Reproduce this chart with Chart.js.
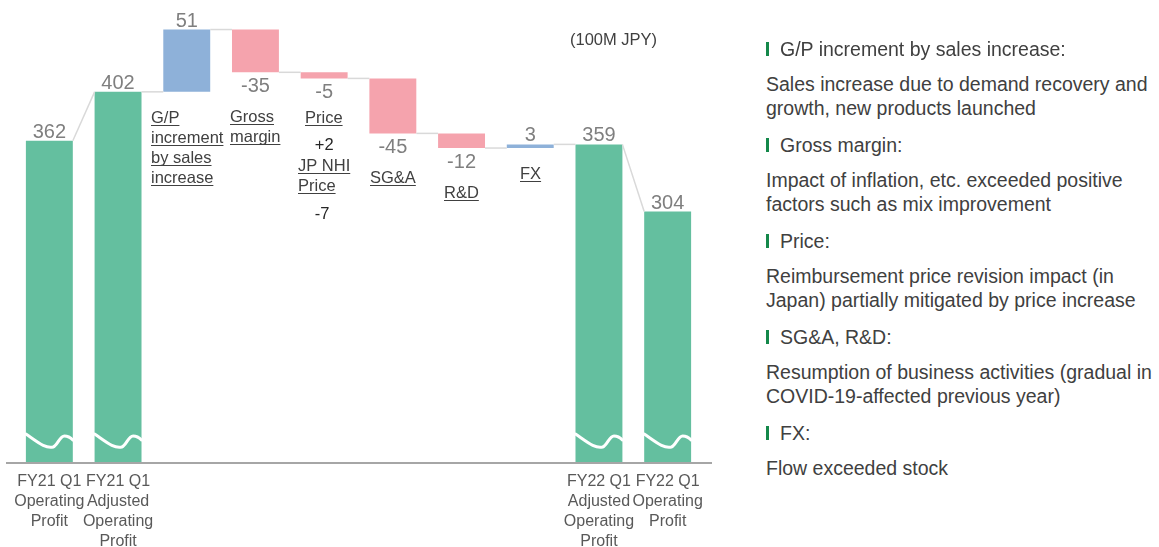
<!DOCTYPE html>
<html>
<head>
<meta charset="utf-8">
<script src="https://cdn.jsdelivr.net/npm/chart.js@4.4.1/dist/chart.umd.min.js"></script>
<style>
  html, body { margin: 0; padding: 0; background: #ffffff; }
  body { width: 1159px; height: 547px; position: relative; overflow: hidden;
         font-family: "Liberation Sans", Arial, sans-serif; }
  #chartBox { position: absolute; left: 0; top: 0; width: 720px; height: 552px; }
  #unit { position: absolute; left: 570px; top: 30px; font-size: 16.5px; color: #404040; white-space: nowrap; }
  #notes { position: absolute; left: 766px; top: 37px; color: #404040; font-size: 19.5px; }
  #notes .h { line-height: 24px; height: 24px; margin-bottom: 11px; white-space: nowrap; position: relative; padding-left: 14px; }
  #notes .h::before { content: ""; position: absolute; left: 0; top: 5px; width: 3px; height: 14px; background: #14884a; }
  #notes .p { line-height: 24px; margin-bottom: 13px; white-space: nowrap; }
</style>
</head>
<body>
<div id="chartBox"><canvas id="c" width="720" height="552"></canvas></div>
<div id="unit"></div>
<div id="notes"></div>
<script>
// ---------------- data ----------------
const categoryLines = [
  ['FY21 Q1', 'Operating', 'Profit'],
  ['FY21 Q1', 'Adjusted', 'Operating', 'Profit'],
  ['G/P', 'increment', 'by sales', 'increase'],
  ['Gross', 'margin'],
  ['Price'],
  ['SG&A'],
  ['R&D'],
  ['FX'],
  ['FY22 Q1', 'Adjusted', 'Operating', 'Profit'],
  ['FY22 Q1', 'Operating', 'Profit']
];
const values = [362, 402, 51, -35, -5, -45, -12, 3, 359, 304];
const kinds = ['total', 'total', 'delta', 'delta', 'delta', 'delta', 'delta', 'delta', 'total', 'total'];
const priceIncrease = 2;
const nhiPriceLines = ['JP NHI', 'Price'];
const nhiPrice = -7;
const unitLabel = '(100M JPY)';
const noteHeaders = ['G/P increment by sales increase:', 'Gross margin:', 'Price:', 'SG&A, R&D:', 'FX:'];
const noteTexts = [
  ['Sales increase due to demand recovery and', 'growth, new products launched'],
  ['Impact of inflation, etc. exceeded positive', 'factors such as mix improvement'],
  ['Reimbursement price revision impact (in', 'Japan) partially mitigated by price increase'],
  ['Resumption of business activities (gradual in', 'COVID-19-affected previous year)'],
  ['Flow exceeded stock']
];
// axis range (broken axis)
const yMin = 99, yMax = 469;

// ---------------- styling ----------------
const labelNudge = { 'Price': -5 };
const FONT = '"Liberation Sans", Arial, sans-serif';

// ---------------- derived ----------------
const categories = categoryLines.map(l => l.join(' '));
const ranges = [], levels = [];
let running = 0;
values.forEach((v, i) => {
  if (kinds[i] === 'total') { ranges.push([yMin, v]); running = v; }
  else { const s = running; running += v; ranges.push([Math.min(s, running), Math.max(s, running)]); }
  levels.push(running);
});
const colors = values.map((v, i) => kinds[i] === 'total' ? '#64bf9f' : (v >= 0 ? '#8eb1d9' : '#f5a3ad'));

document.getElementById('unit').textContent = unitLabel;
const notes = document.getElementById('notes');
noteHeaders.forEach((h, i) => {
  const hd = document.createElement('div'); hd.className = 'h'; hd.textContent = h; notes.appendChild(hd);
  const p = document.createElement('div'); p.className = 'p';
  noteTexts[i].forEach((t, k) => { if (k) p.appendChild(document.createElement('br')); p.appendChild(document.createTextNode(t)); });
  notes.appendChild(p);
});

function fmt(v) { return String(v); }

const wfPlugin = {
  id: 'wf',
  afterDatasetsDraw(chart) {
    const ctx = chart.ctx;
    const ys = chart.scales.y;
    const meta = chart.getDatasetMeta(0);
    const area = chart.chartArea;
    ctx.save();
    // connectors
    ctx.strokeStyle = '#d9d9d9';
    ctx.lineWidth = 1.5;
    for (let i = 0; i < values.length - 1; i++) {
      const a = meta.data[i], b = meta.data[i + 1];
      const from = levels[i];
      const to = kinds[i + 1] === 'total' ? values[i + 1] : levels[i];
      ctx.beginPath();
      ctx.moveTo(a.x + a.width / 2, ys.getPixelForValue(from));
      ctx.lineTo(b.x - b.width / 2, ys.getPixelForValue(to));
      ctx.stroke();
    }
    // break waves on total bars
    const B = area.bottom;
    ctx.strokeStyle = '#ffffff';
    ctx.lineWidth = 3;
    ctx.lineCap = 'round';
    meta.data.forEach((el, i) => {
      if (kinds[i] !== 'total') return;
      const L = el.x - el.width / 2, w = el.width;
      ctx.beginPath();
      ctx.moveTo(L, B - 28);
      ctx.bezierCurveTo(L + 0.25 * w, B - 20, L + 0.42 * w, B - 13, L + 0.58 * w, B - 15);
      ctx.bezierCurveTo(L + 0.68 * w, B - 17, L + 0.72 * w, B - 26, L + 0.82 * w, B - 26);
      ctx.quadraticCurveTo(L + 0.92 * w, B - 26, L + w, B - 22);
      ctx.stroke();
    });
    // axis line
    ctx.strokeStyle = '#a6a6a6';
    ctx.lineWidth = 2;
    ctx.lineCap = 'butt';
    ctx.beginPath();
    ctx.moveTo(area.left - 9, B + 1);
    ctx.lineTo(area.right + 10, B + 1);
    ctx.stroke();
    // value labels
    ctx.font = '20px ' + FONT;
    ctx.fillStyle = '#7f7f7f';
    ctx.textAlign = 'center';
    ctx.textBaseline = 'alphabetic';
    meta.data.forEach((el, i) => {
      const v = values[i];
      if (kinds[i] === 'total' || v >= 0) {
        ctx.fillText(fmt(v), el.x, ys.getPixelForValue(ranges[i][1]) - 3);
      } else {
        ctx.fillText(fmt(v), el.x, ys.getPixelForValue(ranges[i][0]) + 20);
      }
    });
    // delta category labels (underlined)
    ctx.font = '16.5px ' + FONT;
    ctx.textAlign = 'left';
    function block(lines, cx, cy0, color, underline) {
      ctx.fillStyle = color; ctx.strokeStyle = color; ctx.lineWidth = 1;
      const widths = lines.map(t => ctx.measureText(t).width);
      const maxW = Math.max(...widths);
      const x0 = Math.round(cx - maxW / 2);
      lines.forEach((t, k) => {
        const base = cy0 + k * 20 + 6;
        ctx.fillText(t, x0, base);
        if (underline) {
          ctx.beginPath();
          ctx.moveTo(x0, Math.round(base + 2) + 0.5);
          ctx.lineTo(x0 + widths[k], Math.round(base + 2) + 0.5);
          ctx.stroke();
        }
      });
    }
    meta.data.forEach((el, i) => {
      if (kinds[i] !== 'delta') return;
      const bottom = ys.getPixelForValue(ranges[i][0]);
      const cy = (values[i] < 0 ? bottom + 44 : bottom + 25) + (labelNudge[categories[i]] || 0);
      block(categoryLines[i], el.x, cy, '#404040', true);
      if (categories[i] === 'Price') {
        ctx.textAlign = 'center';
        ctx.fillStyle = '#262626';
        ctx.fillText('+' + priceIncrease, el.x, cy + 27 + 6);
        ctx.textAlign = 'left';
        block(nhiPriceLines, el.x, cy + 48, '#404040', true);
        ctx.textAlign = 'center';
        ctx.fillStyle = '#262626';
        ctx.fillText(String(nhiPrice), el.x - 2, cy + 96 + 6);
        ctx.textAlign = 'left';
      }
    });
    ctx.restore();
  }
};

new Chart(document.getElementById('c'), {
  type: 'bar',
  data: {
    labels: categories,
    datasets: [{
      data: ranges,
      backgroundColor: colors,
      borderWidth: 0,
      categoryPercentage: 1,
      barPercentage: 0.683
    }]
  },
  options: {
    responsive: false,
    animation: false,
    layout: { padding: { left: 15, right: 18, top: 10, bottom: -10 } },
    plugins: { legend: { display: false }, tooltip: { enabled: false } },
    scales: {
      y: { display: false, min: yMin, max: yMax },
      x: {
        grid: { display: false, drawTicks: false },
        border: { display: false },
        ticks: {
          autoSkip: false, maxRotation: 0, minRotation: 0, padding: 10,
          color: '#595959',
          font: { family: FONT, size: 16, lineHeight: 1.25 },
          callback: function (val, idx) { return kinds[idx] === 'total' ? categoryLines[idx] : ''; }
        }
      }
    }
  },
  plugins: [wfPlugin]
});
</script>
</body>
</html>
